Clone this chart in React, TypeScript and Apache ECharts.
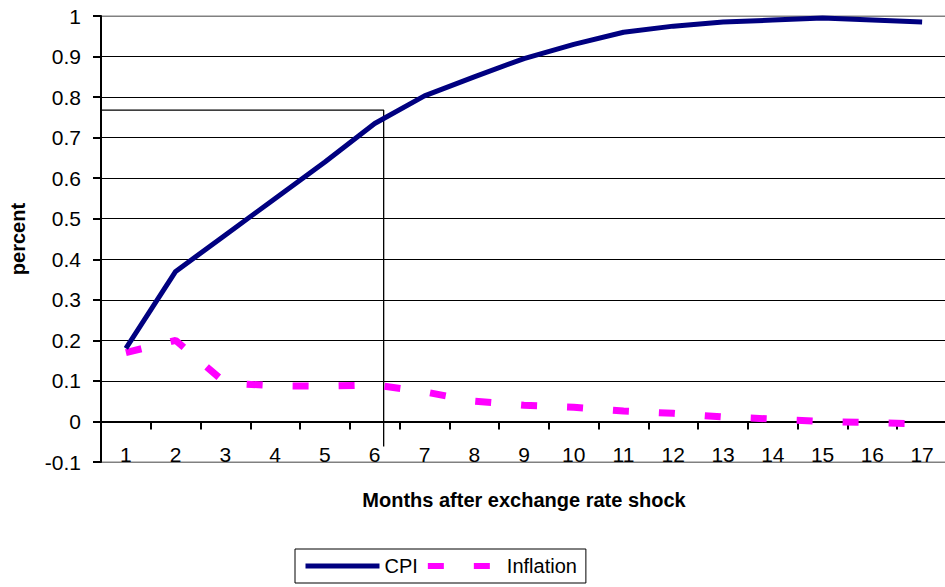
import React, { useEffect, useRef } from "react";
import * as echarts from "echarts";

const months = ["1", "2", "3", "4", "5", "6", "7", "8", "9", "10", "11", "12", "13", "14", "15", "16", "17"];
const cpi = [0.18, 0.37, 0.46, 0.55, 0.64, 0.735, 0.803, 0.85, 0.895, 0.93, 0.96, 0.975, 0.985, 0.99, 0.995, 0.99, 0.985];
const inflation = [0.17, 0.2, 0.095, 0.088, 0.087, 0.09, 0.073, 0.05, 0.04, 0.035, 0.026, 0.02, 0.011, 0.006, 0.0, -0.003, -0.006];
// reference guide: horizontal at refY from the axis to refX, then down to refBottom (x in month units)
const refStartX = 0.41;
const refX = 6.18;
const refY = 0.768;
const refBottom = -0.062;

const FONT = "Liberation Sans, Arial, sans-serif";

export default function App() {
  const ref = useRef<HTMLDivElement>(null);
  useEffect(() => {
    if (!ref.current) return;
    const chart = echarts.init(ref.current, undefined, { renderer: "svg" });
    const splitColors = ["#808080", "#000", "#000", "#000", "#000", "#000", "#000", "#000", "#000", "#000", "#000", "#808080"];
    chart.setOption({
      animation: false,
      textStyle: { fontFamily: FONT },
      grid: {
        left: 101,
        right: -2,
        top: 16,
        bottom: 125,
        show: true,
        borderColor: "#808080",
        borderWidth: 1,
        containLabel: false,
        outerBoundsMode: "none",
      },
      legend: {
        left: 295,
        top: 549,
        padding: [7, 9, 7, 8],
        borderColor: "#000",
        borderWidth: 1,
        itemWidth: 74,
        itemHeight: 14,
        itemGap: 7,
        itemStyle: { opacity: 0 },
        lineStyle: { width: 5 },
        textStyle: { fontFamily: FONT, fontSize: 20, color: "#000" },
        data: [
          { name: "CPI", lineStyle: { width: 5, type: "solid" } },
          { name: "Inflation", lineStyle: { width: 6, type: [16, 30], dashOffset: 0, cap: "butt" } },
        ],
      },
      xAxis: [
        {
          type: "category",
          data: months,
          boundaryGap: true,
          axisLine: { onZero: true, lineStyle: { color: "#000", width: 2 } },
          axisTick: { show: true, interval: 0, length: 8, lineStyle: { color: "#000", width: 2 } },
          axisLabel: { margin: -18, fontSize: 21, color: "#000", fontFamily: FONT, interval: 0 },
          splitLine: { show: false },
          name: "Months after exchange rate shock",
          nameLocation: "middle",
          nameGap: 28,
          nameMoveOverlap: false,
          nameTextStyle: { fontSize: 20, fontWeight: "bold", color: "#000", fontFamily: FONT },
        },
        {
          type: "value",
          min: 0.5,
          max: 17.5,
          show: false,
        },
      ],
      yAxis: {
        type: "value",
        min: -0.1,
        max: 1,
        interval: 0.1,
        axisLine: { show: true, onZero: false, lineStyle: { color: "#000", width: 2 } },
        axisTick: { show: true, length: 8, lineStyle: { color: "#000", width: 2 } },
        axisLabel: { fontSize: 21, color: "#000", margin: 20, fontFamily: FONT },
        splitLine: { show: true, lineStyle: { color: splitColors, width: 1 } },
        name: "percent",
        nameLocation: "middle",
        nameRotate: 90,
        nameGap: 73,
        nameMoveOverlap: false,
        nameTextStyle: { fontSize: 20, fontWeight: "bold", color: "#000", fontFamily: FONT },
      },
      series: [
        {
          name: "guide",
          type: "line",
          xAxisIndex: 1,
          data: [
            [refStartX, refY],
            [refX, refY],
            [refX, refBottom],
          ],
          symbol: "none",
          clip: false,
          silent: true,
          z: 1,
          lineStyle: { color: "#000", width: 1.3 },
        },
        {
          name: "CPI",
          type: "line",
          data: cpi,
          symbol: "none",
          z: 3,
          lineStyle: { color: "#000080", width: 5, join: "round" },
          itemStyle: { color: "#000080" },
        },
        {
          name: "Inflation",
          type: "line",
          data: inflation,
          symbol: "none",
          z: 2,
          lineStyle: { color: "#FF00FF", width: 7, type: [16, 30], cap: "butt" },
          itemStyle: { color: "#FF00FF" },
        },
      ],
    });
    return () => chart.dispose();
  }, []);
  return <div ref={ref} style={{ position: "fixed", left: 0, top: 0, width: 945, height: 587, background: "#fff" }} />;
}
